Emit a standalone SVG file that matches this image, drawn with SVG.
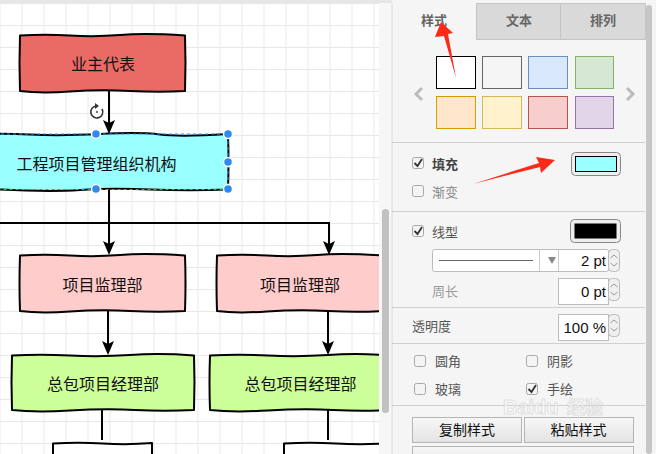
<svg xmlns="http://www.w3.org/2000/svg" width="656" height="454" viewBox="0 0 656 454">
<style>
.node{stroke:#000;stroke-width:2;stroke-linejoin:round}
.nt{font-family:"Noto Sans CJK SC","Liberation Sans",sans-serif;font-size:16px;fill:#111;text-anchor:middle}
.conn{stroke:#000;stroke-width:2;fill:none}
.ah{fill:#000}
.pt{font-family:"Noto Sans CJK SC","Liberation Sans",sans-serif;font-size:13px;fill:#555}
.tab{font-family:"Noto Sans CJK SC","Liberation Sans",sans-serif;font-size:13px;font-weight:bold;fill:#666;text-anchor:middle}
.sep{stroke:#cfcfcf;stroke-width:1}
.cb{fill:#f4f4f4;stroke:#a8a8a8;stroke-width:1}
.ck{fill:none;stroke:#333;stroke-width:1.8}
.box{fill:#fff;stroke:#bdbdbd;stroke-width:1}
.num{font-family:"Liberation Sans",Arial,sans-serif;font-size:15px;fill:#111;text-anchor:end}
.handle{fill:#2b8af5;stroke:#fff;stroke-width:1.5}
</style>
<defs>
<pattern id="grid" width="22" height="22" patternUnits="userSpaceOnUse" x="-0.5" y="3">
<path d="M0,0.5 H22 M0.5,0 V22" stroke="#e8e8e8" stroke-width="1" fill="none"/>
</pattern>
<clipPath id="canvasClip"><rect x="0" y="3" width="379" height="451"/></clipPath>
<linearGradient id="btnG" x1="0" y1="0" x2="0" y2="1"><stop offset="0" stop-color="#f7f7f7"/><stop offset="1" stop-color="#e3e3e3"/></linearGradient>
</defs>

<!-- background -->
<rect x="0" y="0" width="656" height="454" fill="#f5f5f5"/>
<rect x="0" y="0" width="392" height="3" fill="#e6e6e6"/>
<rect x="0" y="3" width="379" height="451" fill="#fff"/>
<rect x="0" y="3" width="379" height="451" fill="url(#grid)"/>
<rect x="379" y="3" width="13" height="451" fill="#f7f7f7"/>
<rect x="382" y="209" width="7" height="204" rx="3.5" fill="#c1c1c1"/>

<g clip-path="url(#canvasClip)">
<!-- connectors -->
<g id="connectors">
<path class="conn" d="M109,91 L109,126"/>
<polygon class="ah" points="109,134 103,120 109,123 115,120"/>
<path class="conn" d="M109,190 L109,223 M0,223 L329,223 M329,222 L329,247 M109,223 L109,247"/>
<polygon class="ah" points="109,255 103,241 109,244 115,241"/>
<polygon class="ah" points="329,255 323,241 329,244 335,241"/>
<path class="conn" d="M108,311 L108,347 M328,311 L328,347"/>
<polygon class="ah" points="108,355 102,341 108,344 114,341"/>
<polygon class="ah" points="328,355 322,341 328,344 334,341"/>
<path class="conn" d="M102,410 L102,440 M328,410 L328,440"/>
</g>

<g id="node-owner">
<path class="node" fill="#ea6b66" d="M20,35.5 Q45,34 70,35.5 T120,35 T185,35.5 Q186,63 185,91 Q160,92.5 130,91 T70,91.5 T20,91 Q19,63 20,35.5 Z"/>
<text class="nt" x="103" y="70">业主代表</text>
</g>

<g id="node-org">
<path class="node" fill="#99ffff" d="M-35,134.5 Q0,133 30,134.5 T100,134 T160,134.5 T228,134 Q229,162 228,189.5 Q190,191 150,189.5 T80,190 T0,189.5 T-35,189.5 Z"/>
<text class="nt" x="96.5" y="169.5">工程项目管理组织机构</text>
</g>

<g id="node-supervise-1">
<path class="node" fill="#ffcccc" d="M20,255.5 Q45,254 70,255.5 T120,255 T185,255.5 Q186,283 185,311 Q160,312.5 130,311 T70,311.5 T20,311 Q19,283 20,255.5 Z"/>
<text class="nt" x="102.5" y="291">项目监理部</text>
</g>

<g id="node-supervise-2">
<path class="node" fill="#ffcccc" d="M217,255.5 Q242,254 267,255.5 T317,255 T383,255.5 Q384,283 383,311 Q358,312.5 328,311 T267,311.5 T217,311 Q216,283 217,255.5 Z"/>
<text class="nt" x="300" y="291">项目监理部</text>
</g>

<g id="node-contractor-1">
<path class="node" fill="#ccff99" d="M12,355.5 Q40,354 70,355.5 T130,355 T194,355.5 Q195,382 194,410 Q165,411.5 135,410 T70,410.5 T12,410 Q11,382 12,355.5 Z"/>
<text class="nt" x="103" y="390">总包项目经理部</text>
</g>

<g id="node-contractor-2">
<path class="node" fill="#ccff99" d="M210,355.5 Q238,354 268,355.5 T328,355 T392,355.5 Q393,382 392,410 Q363,411.5 333,410 T268,410.5 T210,410 Q209,382 210,355.5 Z"/>
<text class="nt" x="300.5" y="390">总包项目经理部</text>
</g>

<g id="node-bottom-1">
<path class="node" fill="#fff" d="M53,443.5 Q78,442 103,443.5 T152,443 L152,470 L53,470 Z"/>
</g>
<g id="node-bottom-2">
<path class="node" fill="#fff" d="M284,443.5 Q310,442 336,443.5 T400,443 L400,470 L284,470 Z"/>
</g>

<!-- selection -->
<g id="selection">
<rect x="-35" y="134" width="263" height="55.5" fill="none" stroke="#1e9bff" stroke-width="1" stroke-dasharray="3 3"/>
<circle class="handle" cx="96" cy="134" r="4.5"/>
<circle class="handle" cx="228" cy="134" r="4.5"/>
<circle class="handle" cx="228" cy="162" r="4.5"/>
<circle class="handle" cx="96" cy="189" r="4.5"/>
<circle class="handle" cx="228" cy="189" r="4.5"/>
<circle cx="97" cy="112" r="8" fill="#fff" opacity="0.8"/>
<path d="M102,109 A6,6 0 1 1 96,106" fill="none" stroke="#333" stroke-width="1.6"/>
<polygon points="95,103 99,106 95,109" fill="#333"/>
<circle cx="97" cy="112" r="0.9" fill="#333"/>
</g>
</g>

<!-- format panel -->
<g id="panel">
<rect x="392" y="3" width="254" height="451" fill="#f5f5f5"/>
<line x1="392" y1="3" x2="392" y2="454" stroke="#dadada"/>
<rect x="476.5" y="3.5" width="84" height="36" fill="#d9d9d9" stroke="#c4c4c4"/>
<rect x="560.5" y="3.5" width="85" height="36" fill="#d9d9d9" stroke="#c4c4c4"/>
<text class="tab" x="434" y="25">样式</text>
<text class="tab" x="519" y="25">文本</text>
<text class="tab" x="603" y="25">排列</text>
<rect x="646" y="5" width="6" height="449" rx="3" fill="#c6c6c6"/>

<!-- swatches -->
<rect x="436.5" y="56.5" width="39" height="32" fill="#fff" stroke="#000"/>
<rect x="482.5" y="56.5" width="39" height="32" fill="#f5f5f5" stroke="#666"/>
<rect x="528.5" y="56.5" width="39" height="32" fill="#dae8fc" stroke="#6c8ebf"/>
<rect x="575.5" y="56.5" width="38" height="32" fill="#d5e8d4" stroke="#82b366"/>
<rect x="436.5" y="96.5" width="39" height="32" fill="#ffe6cc" stroke="#d79b00"/>
<rect x="482.5" y="96.5" width="39" height="32" fill="#fff2cc" stroke="#d6b656"/>
<rect x="528.5" y="96.5" width="39" height="32" fill="#f8cecc" stroke="#b85450"/>
<rect x="575.5" y="96.5" width="38" height="32" fill="#e1d5e7" stroke="#9673a6"/>
<path d="M422,88 L416,94 L422,100" fill="none" stroke="#bbb" stroke-width="3"/>
<path d="M627,88 L633,94 L627,100" fill="none" stroke="#bbb" stroke-width="3"/>
<line class="sep" x1="392" y1="142.5" x2="645" y2="142.5"/>

<!-- fill -->
<rect class="cb" x="412.5" y="157.5" width="11" height="11" rx="2"/>
<path class="ck" d="M414.5,163 L417.5,166 L422,159"/>
<text class="pt" x="432" y="169" style="font-weight:bold;fill:#444">填充</text>
<rect class="cb" x="412.5" y="185.5" width="11" height="11" rx="2"/>
<text class="pt" x="432" y="197" style="fill:#888">渐变</text>
<rect x="571.5" y="152.5" width="49" height="23" rx="4" fill="#eee" stroke="#888"/>
<rect x="575.5" y="156.5" width="41" height="15" fill="#99ffff" stroke="#000"/>
<line class="sep" x1="392" y1="211.5" x2="645" y2="211.5"/>

<!-- line -->
<rect class="cb" x="412.5" y="225.5" width="11" height="11" rx="2"/>
<path class="ck" d="M414.5,231 L417.5,234 L422,227"/>
<text class="pt" x="432" y="237">线型</text>
<rect x="570.5" y="219.5" width="50" height="23" rx="4" fill="#eee" stroke="#888"/>
<rect x="574.5" y="223.5" width="42" height="15" fill="#000"/>
<rect class="box" x="432.5" y="249.5" width="176" height="22" rx="2"/>
<line x1="439" y1="260.5" x2="533" y2="260.5" stroke="#666"/>
<line x1="539.5" y1="250" x2="539.5" y2="271" stroke="#ccc"/>
<polygon points="548,257 556,257 552,264" fill="#888"/>
<line x1="558.5" y1="250" x2="558.5" y2="271" stroke="#ccc"/>
<text class="num" x="606" y="266">2 pt</text>
<rect x="608.5" y="249.5" width="11" height="22" rx="4" fill="#f0f0f0" stroke="#bbb"/>
<path d="M610.5,258 L614,255 L617.5,258 M610.5,263 L614,266 L617.5,263" fill="none" stroke="#999"/>
<text class="pt" x="432" y="296" style="fill:#999">周长</text>
<rect class="box" x="558.5" y="278.5" width="50" height="26"/>
<text class="num" x="606" y="297">0 pt</text>
<rect x="608.5" y="278.5" width="11" height="22" rx="4" fill="#f0f0f0" stroke="#bbb"/>
<path d="M610.5,287 L614,284 L617.5,287 M610.5,292 L614,295 L617.5,292" fill="none" stroke="#999"/>
<line class="sep" x1="392" y1="307.5" x2="645" y2="307.5"/>

<text class="pt" x="412" y="331">透明度</text>
<rect class="box" x="558.5" y="314.5" width="50" height="26"/>
<text class="num" x="606" y="333">100 %</text>
<rect x="608.5" y="314.5" width="11" height="22" rx="4" fill="#f0f0f0" stroke="#bbb"/>
<path d="M610.5,323 L614,320 L617.5,323 M610.5,328 L614,331 L617.5,328" fill="none" stroke="#999"/>
<line class="sep" x1="392" y1="343.5" x2="645" y2="343.5"/>

<rect class="cb" x="414.5" y="355.5" width="11" height="11" rx="2"/>
<text class="pt" x="435" y="366">圆角</text>
<rect class="cb" x="526.5" y="355.5" width="11" height="11" rx="2"/>
<text class="pt" x="547" y="366">阴影</text>
<rect class="cb" x="414.5" y="383.5" width="11" height="11" rx="2"/>
<text class="pt" x="435" y="394">玻璃</text>
<rect class="cb" x="526.5" y="383.5" width="11" height="11" rx="2"/>
<path class="ck" d="M528.5,389 L531.5,392 L536,385"/>
<text class="pt" x="547" y="394">手绘</text>
<line class="sep" x1="392" y1="405.5" x2="645" y2="405.5"/>

<rect x="412.5" y="417.5" width="109" height="25" fill="url(#btnG)" stroke="#b5b5b5"/>
<text class="pt" x="467" y="435" style="font-size:14px;fill:#111;text-anchor:middle">复制样式</text>
<rect x="524.5" y="417.5" width="109" height="25" fill="url(#btnG)" stroke="#b5b5b5"/>
<text class="pt" x="578.5" y="435" style="font-size:14px;fill:#111;text-anchor:middle">粘贴样式</text>
<rect x="412.5" y="446.5" width="221" height="20" fill="url(#btnG)" stroke="#b5b5b5"/>

<!-- watermark -->
<g opacity="0.55">
<text x="503" y="414" style="font-family:'Liberation Sans',Arial,sans-serif;font-size:20px;font-weight:bold;fill:#fff;stroke:#d0d0d0;stroke-width:1">Baidu</text>
<text x="567" y="414" style="font-family:'Noto Sans CJK SC',sans-serif;font-size:18px;font-weight:bold;fill:#fff;stroke:#d0d0d0;stroke-width:1">经验</text>
</g>

<!-- red annotation arrows -->
<polygon points="441,22 453,33 448,34 456,78 444,36 435,37" fill="#fe2a19"/>
<polygon points="555,160 541,173 540,167 473,184 539,163 536,157" fill="#fe2a19"/>
</g>
</svg>
